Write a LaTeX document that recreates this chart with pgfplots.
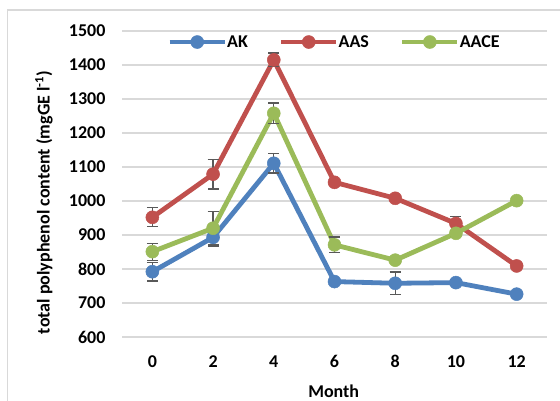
\documentclass[border=0pt]{standalone}
\usepackage{pgfplots}
\usepackage{pgfplotstable}
\pgfplotsset{compat=1.18}
\usepackage{fontspec}
\setmainfont{Carlito}

\definecolor{akblue}{HTML}{4F81BD}
\definecolor{aasred}{HTML}{C0504D}
\definecolor{aacegreen}{HTML}{9BBB59}
\definecolor{gridgray}{HTML}{D9D9D9}
\definecolor{errgray}{HTML}{595959}

% month, mean, standard deviation
\pgfplotstableread{
m v e
0 792 27
2 893 27
4 1111 29
6 763 8
8 758 33
10 760 8
12 726 8
}\AK
\pgfplotstableread{
m v e
0 952 28
2 1079 44
4 1415 20
6 1055 8
8 1008 8
10 934 20
12 809 8
}\AAS
\pgfplotstableread{
m v e
0 851 25
2 920 49
4 1258 30
6 871 23
8 826 8
10 905 8
12 1001 8
}\AACE

\pgfplotsset{
  series/.style={
    color=#1, line width=4.8bp, mark=*, mark size=6.5bp,
    mark options={solid, fill=#1, line width=0.5bp},
    error bars/.cd, y dir=both, y explicit,
    error bar style={errgray, line width=1.3bp},
    error mark options={errgray, rotate=90, line width=1.3bp, mark size=5.5bp}
  }
}

\begin{document}
\begin{tikzpicture}[font=\fontsize{18bp}{21bp}\selectfont\bfseries]
\useasboundingbox (0,0) rectangle (560bp,401bp);
\fill[white] (0,0) rectangle (560bp,401bp);
\draw[gridgray, line width=1.3bp] (7.5bp,0) -- (7.5bp,391bp) -- (560bp,391bp);
\begin{axis}[
  at={(122bp,64bp)}, anchor=south west,
  scale only axis, width=425bp, height=306bp,
  xmin=-1, xmax=13, ymin=600, ymax=1500,
  xtick={0,2,...,12}, ytick={600,700,...,1500},
  axis line style={draw=none}, tick style={draw=none},
  ymajorgrids, grid style={gridgray, line width=1.3bp},
  /pgf/number format/assume math mode=true,
  /pgf/number format/1000 sep={},
  yticklabel style={xshift=-13bp},
  xticklabel style={yshift=-15bp},
  clip=false,
  legend columns=3,
  legend style={draw=none, fill=none, at={(0.5,0.964)}, anchor=center,
    /tikz/every even column/.append style={column sep=29bp},
    /tikz/every odd column/.append style={column sep=-2bp}},
  legend image code/.code={\draw[mark repeat=2,mark phase=2,#1]
    plot coordinates {(0bp,0bp) (27.5bp,0bp) (55bp,0bp)};},
]
\addplot[series=akblue] table[x=m, y=v, y error=e] {\AK};
\addlegendentry{AK}
\addplot[series=aasred] table[x=m, y=v, y error=e] {\AAS};
\addlegendentry{AAS}
\addplot[series=aacegreen] table[x=m, y=v, y error=e] {\AACE};
\addlegendentry{AACE}
\end{axis}
\node[rotate=90] at (44bp,198.5bp) {total polyphenol content (mgGE l\textsuperscript{-1})};
\node at (333.7bp,10bp) {Month};
\end{tikzpicture}
\end{document}
